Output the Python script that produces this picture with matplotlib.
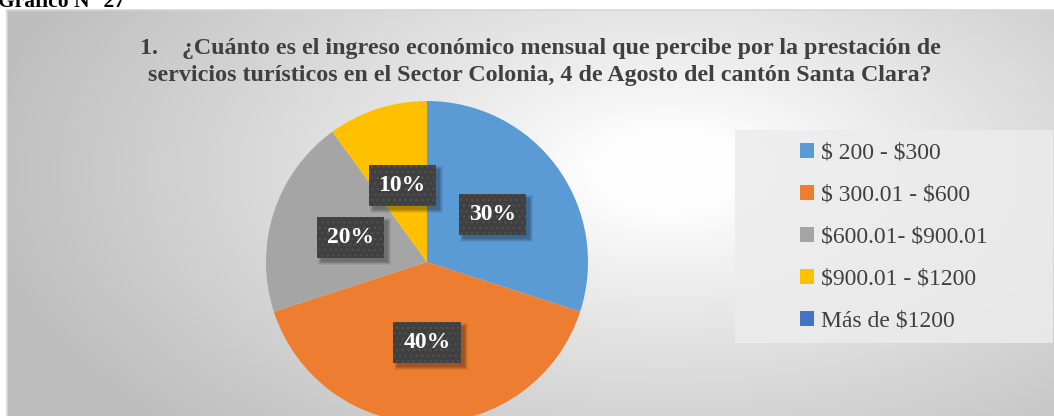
import numpy as np
import matplotlib.pyplot as plt
from matplotlib.patches import Rectangle

plt.rcParams["text.parse_math"] = False

# Survey answers: monthly income from tourism services
categories = ["$ 200 - $300", "$ 300.01 - $600", "$600.01- $900.01",
              "$900.01 - $1200", "Más de $1200"]
shares = [30, 40, 20, 10, 0]
colors = ["#5B9BD5", "#ED7D31", "#A5A5A5", "#FFC000", "#4472C4"]

title = ("1.    ¿Cuánto es el ingreso económico mensual que percibe por la prestación de\n"
         "servicios turísticos en el Sector Colonia, 4 de Agosto del cantón Santa Clara?")
caption = "Gráfico N° 27"

W, H = 1054, 416
SERIF = "Liberation Serif"

fig = plt.figure(figsize=(W / 100, H / 100), dpi=100)
fig.patch.set_facecolor("white")
ax = fig.add_axes([0, 0, 1, 1])

# radial grey-to-white background of the chart area
x0, y0 = 7, 10  # top-left corner of the chart area (pixels from top)
xs = np.arange(x0, W)
ys = np.arange(y0, H)
gx, gy = np.meshgrid(xs, ys)
r = np.sqrt(((gx - 670) / 620.0) ** 2 + ((gy - 170) / 330.0) ** 2)
shade = np.clip(254 - 64 * np.clip(r - 0.12, 0, None) ** 0.9, 190, 254) / 255.0
img = np.dstack([shade, shade, shade])
ax.imshow(img, extent=(x0, W, 0, H - y0), origin="upper", zorder=0)
ax.add_patch(Rectangle((x0, -5), W - x0 + 5, H - y0 + 5, fill=False,
                       edgecolor="#d6d6d6", lw=1.2, zorder=1))

# pie, clockwise from 12 o'clock
cx, cy, rad = 427, H - 262, 161


def pct_label(p):
    return f"{p:.0f}%" if p > 0.5 else ""


wedges, texts, autotexts = ax.pie(
    shares, colors=colors, startangle=90, counterclock=False,
    center=(cx, cy), radius=rad, autopct=pct_label, pctdistance=0.5,
    wedgeprops=dict(linewidth=0), frame=True)

labelled = [t for t in autotexts if t.get_text()]
for t in labelled:
    t.set_fontfamily(SERIF)
    t.set_fontweight("bold")
    t.set_fontsize(17)
    t.set_color("white")
    t.set_zorder(5)
    t.set_bbox(dict(boxstyle="square,pad=0.42", facecolor="#404040",
                    edgecolor="#505050", linewidth=0, hatch="..."))

# legend panel
ax.add_patch(Rectangle((735, H - 343), 318, 213, facecolor="#ececec",
                       edgecolor="none", alpha=0.85, zorder=2))
leg = ax.legend(wedges, categories, loc="upper left",
                bbox_to_anchor=(800 / W, 1 - 143 / H), frameon=False,
                borderpad=0, borderaxespad=0,
                prop=dict(family=SERIF, size=17), handlelength=0.6,
                handleheight=0.6, handletextpad=0.3, labelspacing=0.885)
for txt in leg.get_texts():
    txt.set_color("#404040")
leg.set_zorder(6)

ax.text(540, H - 62, title, ha="center", va="center", fontsize=17.3,
        fontfamily=SERIF, fontweight="bold", color="#404040",
        linespacing=1.36, zorder=6)
ax.text(-2, H - 7, caption, ha="left", va="baseline", fontsize=15.5,
        fontfamily=SERIF, fontweight="bold", color="black", zorder=6)

ax.set_xlim(0, W)
ax.set_ylim(0, H)
ax.set_aspect("equal")
ax.axis("off")

# soft drop shadow below and right of each label box
fig.canvas.draw()
inv = ax.transData.inverted()
for t in labelled:
    ext = t.get_bbox_patch().get_window_extent()
    (bx0, by0), (bx1, by1) = inv.transform([[ext.x0, ext.y0], [ext.x1, ext.y1]])
    for grow, alpha in [(3, 0.06), (2, 0.08), (1, 0.1), (0, 0.12)]:
        ax.add_patch(Rectangle((bx0 + 4 - grow, by0 - 4 - grow),
                               bx1 - bx0 + 2 * grow, by1 - by0 + 2 * grow,
                               facecolor="black", edgecolor="none",
                               alpha=alpha, zorder=4))

fig.savefig("out.png", dpi=100, facecolor="white")
